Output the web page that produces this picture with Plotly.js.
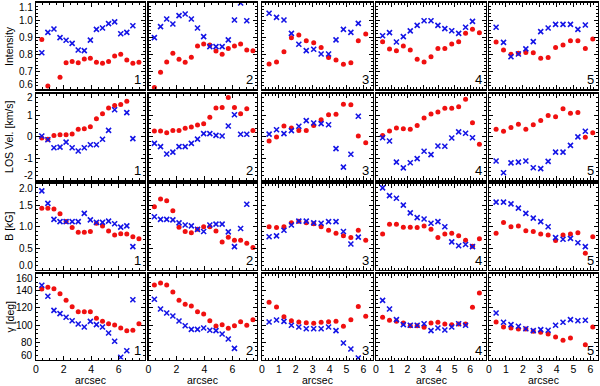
<!DOCTYPE html>
<html><head><meta charset="utf-8">
<script src="https://cdn.plot.ly/plotly-3.0.1.min.js"></script>
<style>html,body{margin:0;padding:0;background:#fff}#chart{width:600px;height:386px}</style>
</head><body><div id="chart"></div>
<script>
// sampling positions along the slit (arcsec)
const xGrid = [0.42,0.86,1.30,1.74,2.18,2.62,3.06,3.50,3.94,4.38,4.82,5.26,5.70,6.14,6.58,7.02,7.46];
const panelLabels = ['1','2','3','4','5'];
const rowTitles = ['Intensity','LOS Vel. [km/s]','B [kG]','γ [deg]'];
const xTitle = 'arcsec';

// Row 1: Intensity
const intensityRed = [
  [0.888,0.619,null,0.669,0.754,0.761,0.754,0.775,0.779,0.756,0.750,0.761,0.792,0.802,0.769,0.750,0.756],
  [0.611,0.698,0.758,0.808,0.773,0.756,0.785,0.850,0.861,0.856,0.821,0.802,0.836,0.850,0.861,0.827,0.823],
  [0.746,0.757,0.817,0.898,0.913,0.881,0.869,0.842,0.783,0.769,0.744,0.754,0.881,0.919],
  [0.875,0.833,0.823,0.850,0.827,0.773,0.757,0.788,0.836,0.836,0.861,0.875,0.923,0.946,0.927],
  [0.873,0.827,0.802,0.808,0.813,0.811,0.779,0.783,0.842,0.856,0.881,0.881,0.835,0.890]
];
const intensityBlue = [
  [0.811,0.929,0.948,0.898,0.883,0.865,0.827,0.823,0.884,0.946,0.954,0.979,0.989,0.921,0.929,0.967,null],
  [0.898,0.962,1.006,0.977,1.025,1.035,1.006,0.954,0.904,0.846,0.846,0.846,0.885,1.000,1.098,0.996,null],
  [1.039,1.015,1.000,0.923,0.860,0.823,0.831,0.804,0.804,0.885,0.946,0.929,0.981,null],
  [0.909,0.927,0.873,0.904,0.937,0.969,0.996,0.996,0.969,0.950,0.938,0.923,0.958,0.992,null],
  [0.958,0.871,0.788,0.804,0.833,0.875,0.933,0.954,0.975,0.975,0.975,0.946,0.971,null]
];
// Row 2: LOS velocity
const velRed = [
  [-0.05,-0.11,0.07,0.10,0.10,0.13,0.35,0.38,0.47,0.84,1.07,1.33,1.45,1.49,1.64,null,null],
  [0.27,0.27,0.19,0.30,0.30,0.40,0.46,0.55,0.61,0.90,1.33,1.36,1.82,1.35,1.07,1.30,0.30],
  [-0.19,0.00,0.50,0.41,0.30,0.30,0.53,0.79,1.02,1.04,1.50,1.48,0.04,-0.27],
  [0.07,0.27,0.41,0.38,0.35,0.52,0.87,1.06,1.15,1.32,1.32,1.39,1.73,0.65,-0.34],
  [0.35,0.26,0.43,0.58,0.35,0.56,0.76,0.99,0.93,1.30,1.09,1.12,-0.02,0.19]
];
const velBlue = [
  [0.04,-0.13,-0.50,-0.47,-0.24,-0.50,-0.65,-0.50,-0.36,-0.36,-0.11,0.30,1.25,null,1.12,-0.08,null],
  [-0.30,-0.45,-0.79,-0.70,-0.45,-0.45,-0.30,-0.10,0.15,0.15,0.07,0.04,0.50,1.02,0.12,0.12,null],
  [0.13,0.33,0.15,0.29,0.49,0.75,0.64,0.61,0.56,-0.54,-1.39,-0.80,0.95,null],
  [-0.04,-0.19,-1.16,-1.43,-1.19,-1.00,-0.66,-0.82,-0.42,-0.43,-0.05,0.23,0.17,-0.04,null],
  [-1.11,-1.65,-1.20,-1.16,-1.11,-1.42,-1.46,-1.13,-0.70,-0.70,-0.39,0.00,0.26,null]
];
// Row 3: field strength
const bRed = [
  [1.43,1.43,1.41,1.30,1.12,0.98,0.87,0.87,0.89,1.08,1.02,0.90,0.81,0.84,0.83,0.77,0.72],
  [1.46,1.64,1.60,1.37,0.99,0.89,0.86,0.94,1.00,1.00,0.90,0.65,0.76,0.69,0.69,0.62,0.52],
  [1.00,0.98,1.00,1.09,1.13,1.09,1.07,1.00,0.92,0.85,0.79,0.75,0.92,0.69],
  [0.83,1.06,1.06,0.99,0.99,0.98,1.02,0.94,0.75,0.83,0.85,0.79,0.69,0.55,0.72],
  [0.85,1.10,1.00,1.02,0.91,0.89,0.83,0.81,0.68,0.81,0.83,0.86,0.39,0.77]
];
const bBlue = [
  [1.83,1.54,1.17,1.12,1.12,1.12,1.12,1.31,1.16,1.10,1.10,1.13,1.07,0.99,1.02,0.54,null],
  [1.23,1.17,1.17,1.16,1.09,1.04,1.02,0.94,0.89,1.04,1.06,1.06,0.88,0.54,0.96,1.52,null],
  [0.77,0.79,0.92,1.04,1.13,1.13,1.09,1.08,1.12,1.12,0.89,0.60,0.76,null],
  [1.90,1.72,1.66,1.50,1.32,1.21,1.18,1.08,1.12,1.00,0.65,0.56,0.59,0.54,null],
  [1.57,1.57,1.53,1.43,1.31,1.20,1.12,1.00,0.75,0.71,0.73,0.63,0.54,null]
];
// Row 4: inclination
const gammaRed = [
  [142.0,144.0,142.3,136.5,128.8,121.4,115.6,115.6,115.6,107.9,104.4,101.6,100.1,96.6,93.5,94.0,101.6],
  [146.6,149.0,146.6,138.5,128.8,124.2,122.2,115.6,112.9,105.1,99.0,100.5,96.3,99.3,104.0,99.8,106.3],
  [126.5,121.0,109.8,105.1,103.6,102.8,102.1,103.3,104.0,104.4,98.6,106.3,121.7,110.2],
  [109.1,105.6,104.4,102.4,99.3,99.3,97.4,102.4,103.3,101.3,100.5,101.3,101.3,120.7,137.3],
  [103.6,97.8,96.6,95.5,95.5,92.8,91.6,89.7,86.2,82.3,85.0,null,77.2,97.8]
];
const gammaBlue = [
  [146.3,133.5,117.2,113.3,109.1,105.1,101.3,97.8,104.4,100.5,97.8,90.8,81.2,62.6,70.2,129.5,null],
  [130.0,118.7,114.1,110.6,104.8,99.3,95.1,95.1,96.6,94.0,93.5,89.7,83.8,73.0,null,null,null],
  [103.6,105.9,104.4,99.8,97.8,95.8,95.8,95.8,97.8,93.5,79.2,72.2,61.7,null],
  [128.8,118.7,106.3,100.5,99.8,99.8,101.6,93.5,96.6,94.3,97.8,101.6,99.8,null,null],
  [114.1,103.3,100.5,98.6,95.8,93.5,94.7,94.0,99.8,103.3,106.3,105.1,105.6,null]
];

const redRows = [intensityRed, velRed, bRed, gammaRed];
const blueRows = [intensityBlue, velBlue, bBlue, gammaBlue];

// axis settings
const xRanges = [[0,7.9],[0,7.75],[0,6.57],[0,7.0],[0,6.45]];
const xTickVals = [[0,2,4,6],[0,2,4,6],[0,1,2,3,4,5,6],[0,1,2,3,4,5,6],[0,1,2,3,4,5,6]];
const xMinor = [0.5,0.5,0.2,0.2,0.2];
const yRanges = [[0.6,1.1],[-2,2],[0,2],[60,160]];
const yTickVals = [[0.6,0.7,0.8,0.9,1.0,1.1],[-2,-1,0,1,2],[0,0.5,1,1.5,2],[60,80,100,120,140,160]];
const yTickText = [['0.6','0.7','0.8','0.9','1.0','1.1'],['-2','-1','0','1','2'],['0.0','0.5','1.0','1.5','2.0'],['60','80','100','120','140','160']];
const yMinor = [0.02,0.2,0.1,5];

// layout geometry (pixels)
const W = 600, H = 386;
const colL = [36,148.5,262,376,489];
const colR = [145,257,373,486,598];
const rowT = [2.7,93.5,183.5,273.5];
const rowB = [89.3,180.3,270,359.5];

const FONT = 'Liberation Sans, Arial, Helvetica, sans-serif';
const traces = [];
const layout = {
  width: W, height: H, margin: {l:0,r:0,t:0,b:0},
  paper_bgcolor: '#fff', plot_bgcolor: '#fff', showlegend: false,
  font: {family: FONT, size: 10.5, color: '#000'},
  annotations: []
};

for (let r = 0; r < 4; r++) {
  for (let c = 0; c < 5; c++) {
    const idx = r*5 + c + 1;
    const xs = idx === 1 ? '' : String(idx);
    const red = redRows[r][c], blue = blueRows[r][c];
    traces.push({x: xGrid.slice(0, red.length), y: red, xaxis: 'x'+xs, yaxis: 'y'+xs, type: 'scatter', mode: 'markers',
      marker: {symbol: 'circle', size: 5, color: '#f01010'}, cliponaxis: true, hoverinfo: 'skip'});
    traces.push({x: xGrid.slice(0, blue.length), y: blue, xaxis: 'x'+xs, yaxis: 'y'+xs, type: 'scatter', mode: 'markers',
      marker: {symbol: 'x-thin-open', size: 5, color: '#1414e6', line: {color: '#1414e6', width: 1.6}}, cliponaxis: true, hoverinfo: 'skip'});

    layout['xaxis'+xs] = {
      domain: [colL[c]/W, colR[c]/W], range: xRanges[c], anchor: 'y'+xs,
      showline: true, linecolor: '#000', linewidth: 1.2, mirror: 'ticks',
      ticks: 'inside', ticklen: 4, tickwidth: 1, tickcolor: '#000',
      tickmode: 'array', tickvals: xTickVals[c], showgrid: false, zeroline: false,
      showticklabels: r === 3, tickfont: {family: FONT, size: 10.5, color: '#000'},
      minor: {ticks: 'inside', ticklen: 2, tickwidth: 1, tickcolor: '#000', dtick: xMinor[c], tick0: 0, showgrid: false},
      fixedrange: true
    };
    layout['yaxis'+xs] = {
      domain: [1 - rowB[r]/H, 1 - rowT[r]/H], range: yRanges[r], anchor: 'x'+xs,
      showline: true, linecolor: '#000', linewidth: 1.2, mirror: 'ticks',
      ticks: 'inside', ticklen: 4, tickwidth: 1, tickcolor: '#000',
      tickmode: 'array', tickvals: yTickVals[r],
      showgrid: false, zeroline: false, showticklabels: false,
      minor: {ticks: 'inside', ticklen: 2, tickwidth: 1, tickcolor: '#000', dtick: yMinor[r], tick0: yRanges[r][0], showgrid: false},
      fixedrange: true
    };
    layout.annotations.push({
      text: panelLabels[c], xref: 'x'+xs+' domain', yref: 'y'+xs+' domain', x: 1, y: 0,
      xanchor: 'right', yanchor: 'bottom', xshift: -2, yshift: 0, showarrow: false,
      font: {family: FONT, size: 13, color: '#000'}
    });
    // y tick labels on the first column, end labels nudged inside the frame
    if (c === 0) {
      const tv = yTickVals[r];
      tv.forEach((v, k) => {
        let ys = 0;
        if (k === 0) ys = 4.5;
        if (k === tv.length - 1) ys = -4.5;
        layout.annotations.push({
          text: yTickText[r][k], xref: 'x'+xs+' domain', yref: 'y'+xs, x: 0, y: v,
          xanchor: 'right', yanchor: 'middle', xshift: -2, yshift: ys, showarrow: false,
          borderpad: 0, font: {family: FONT, size: 10, color: '#000'}
        });
      });
    }
  }
  layout.annotations.push({
    text: rowTitles[r], xref: 'paper', yref: 'paper', x: 9/W, y: 1 - ((rowT[r]+rowB[r])/2)/H,
    xanchor: 'center', yanchor: 'middle', textangle: -90, showarrow: false,
    font: {family: FONT, size: 10.5, color: '#000'}
  });
}
for (let c = 0; c < 5; c++) {
  layout.annotations.push({
    text: xTitle, xref: 'paper', yref: 'paper', x: ((colL[c]+colR[c])/2)/W, y: 1 - 380/H,
    xanchor: 'center', yanchor: 'middle', showarrow: false,
    font: {family: FONT, size: 10.5, color: '#000'}
  });
}

Plotly.newPlot('chart', traces, layout, {staticPlot: true, displayModeBar: false});
</script>
</body></html>
